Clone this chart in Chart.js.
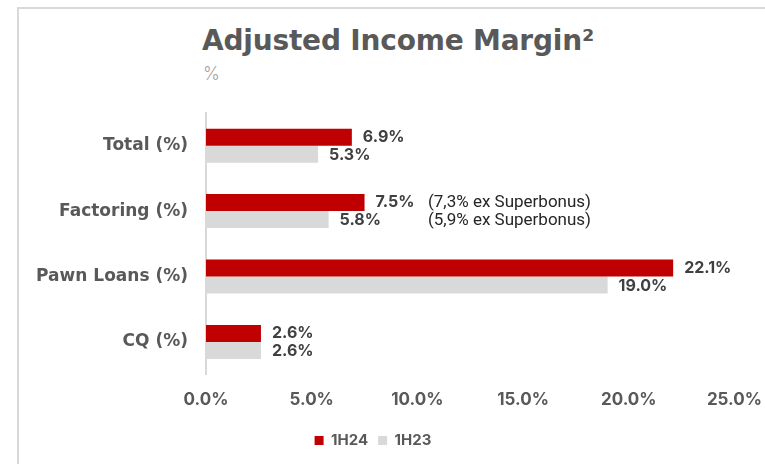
<!DOCTYPE html>
<html>
<head>
<meta charset="utf-8">
<script src="https://cdn.jsdelivr.net/npm/chart.js@4"></script>
<style>
  html,body{margin:0;padding:0;width:765px;height:464px;overflow:hidden;background:#fff;}
  #frame{position:absolute;left:17px;top:7px;width:760px;height:470px;border-left:2px solid #d9d9d9;border-top:2px solid #d9d9d9;box-sizing:border-box;}
  #title{position:absolute;left:202px;top:24px;font-family:"DejaVu Sans",sans-serif;font-weight:700;font-size:28px;color:#595959;white-space:nowrap;letter-spacing:-0.2px;}
  #sub{position:absolute;left:203px;top:63px;font-family:Inter,sans-serif;font-weight:300;font-size:18px;color:#a6a6a6;}
  #wrap{position:absolute;left:-19px;top:0;width:784px;height:464px;}
</style>
</head>
<body>
<div id="frame"></div>
<div id="title">Adjusted Income Margin²</div>
<div id="sub">%</div>
<div id="wrap"><canvas id="c"></canvas></div>
<script>
const categories = ['Total (%)', 'Factoring (%)', 'Pawn Loans (%)', 'CQ (%)'];
const series1H24 = [6.9, 7.5, 22.1, 2.6];
const series1H23 = [5.3, 5.8, 19.0, 2.6];
const notes1H24 = ['', '(7,3% ex Superbonus)', '', ''];
const notes1H23 = ['', '(5,9% ex Superbonus)', '', ''];
const noteAtValue = 10.5;
const xTicks = [0, 5, 10, 15, 20, 25];

const numFont = 'Inter, sans-serif';
const catFont = '"DejaVu Sans", sans-serif';

const valueLabels = {
  id: 'valueLabels',
  afterDatasetsDraw(chart) {
    const ctx = chart.ctx;
    const xs = chart.scales.x;
    ctx.save();
    chart.data.datasets.forEach((ds, di) => {
      const meta = chart.getDatasetMeta(di);
      meta.data.forEach((bar, i) => {
        const y = bar.y + (di === 1 ? 1 : 0);
        ctx.font = '700 16px ' + numFont;
        ctx.fillStyle = '#404040';
        ctx.textAlign = 'left';
        ctx.textBaseline = 'middle';
        ctx.fillText(ds.data[i].toFixed(1) + '%', bar.x + 11, y);
        const note = ds.notes[i];
        if (note) {
          ctx.font = '400 17px Roboto, sans-serif';
          ctx.fillStyle = '#262626';
          ctx.fillText(note, xs.getPixelForValue(noteAtValue), y);
        }
      });
    });
    ctx.restore();
  }
};

new Chart(document.getElementById('c'), {
  type: 'bar',
  data: {
    labels: categories,
    datasets: [
      { label: '1H24', data: series1H24, notes: notes1H24, backgroundColor: '#c00000', borderWidth: 0,
        categoryPercentage: 0.52, barPercentage: 1.0 },
      { label: '1H23', data: series1H23, notes: notes1H23, backgroundColor: '#d9d9d9', borderWidth: 0,
        categoryPercentage: 0.52, barPercentage: 1.0 }
    ]
  },
  options: {
    indexAxis: 'y',
    responsive: true,
    maintainAspectRatio: false,
    animation: false,
    layout: { padding: { top: 113, left: 0, right: 0, bottom: 6 } },
    scales: {
      x: {
        min: 0, max: 25,
        afterBuildTicks(axis) { axis.ticks = xTicks.map(v => ({ value: v })); },
        afterFit(axis) { axis.height += 6; axis.paddingRight = Math.max(0, axis.paddingRight - 4); },
        grid: { display: false },
        border: { display: false },
        ticks: {
          padding: 7,
          color: '#595959',
          font: { family: numFont, weight: '700', size: 17 },
          callback: v => Number(v).toFixed(1) + '%'
        }
      },
      y: {
        afterFit(axis) { axis.width = 225; },
        grid: { display: false, drawTicks: false },
        border: { display: true, color: '#d9d9d9', width: 2 },
        ticks: {
          padding: 18,
          color: '#595959',
          font: { family: catFont, weight: '700', size: 17 }
        }
      }
    },
    plugins: {
      legend: {
        position: 'bottom',
        labels: {
          boxWidth: 9, boxHeight: 9, padding: 10,
          color: '#595959',
          font: { family: numFont, weight: '700', size: 15 }
        }
      },
      tooltip: { enabled: false }
    }
  },
  plugins: [valueLabels]
});
</script>
</body>
</html>
